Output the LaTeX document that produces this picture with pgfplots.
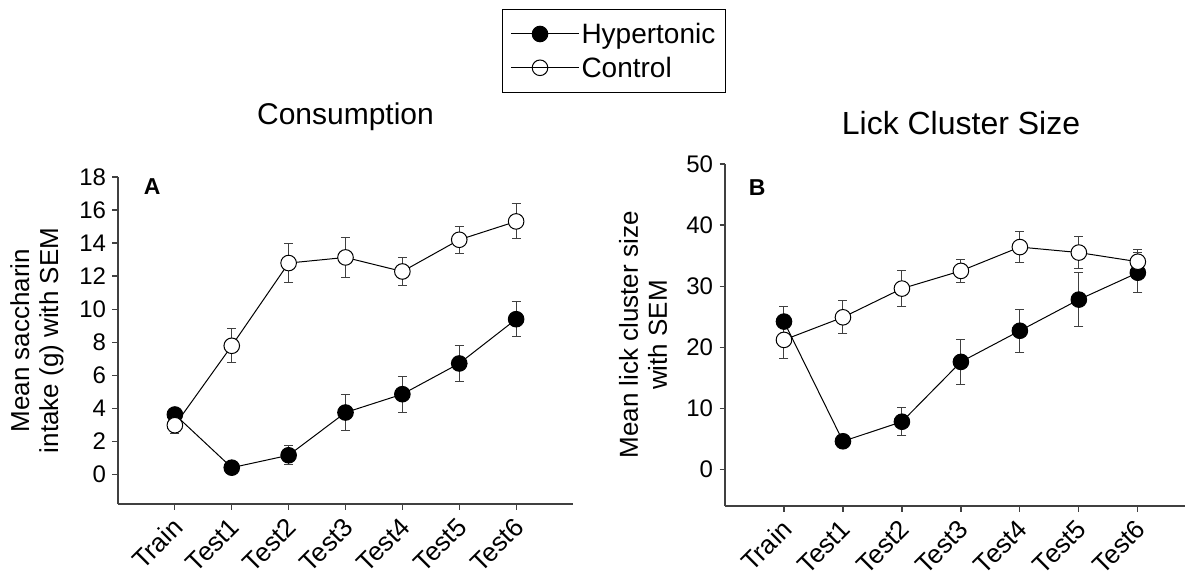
\documentclass[border=0pt]{standalone}
\usepackage{fontspec}
\setmainfont{Liberation Sans}
\usepackage{pgfplots}
\pgfplotsset{compat=1.18}
\usepackage{pgfplotstable}

% mean and SEM
\pgfplotstableread{
x y e
0 3.62 0.30
1 0.40 0.20
2 1.15 0.58
3 3.74 1.10
4 4.85 1.09
5 6.71 1.10
6 9.39 1.06
}\conhyper
\pgfplotstableread{
x y e
0 2.97 0.49
1 7.78 1.03
2 12.79 1.18
3 13.13 1.19
4 12.28 0.84
5 14.20 0.82
6 15.31 1.06
}\concontrol
\pgfplotstableread{
x y e
0 24.2 2.45
1 4.6 0.50
2 7.8 2.26
3 17.6 3.66
4 22.7 3.55
5 27.8 4.37
6 32.2 3.30
}\lickhyper
\pgfplotstableread{
x y e
0 21.2 3.00
1 24.9 2.73
2 29.6 2.95
3 32.5 1.90
4 36.4 2.57
5 35.5 2.60
6 34.0 2.00
}\lickcontrol

\definecolor{axisgray}{HTML}{404040}

\pgfplotsset{
    panel/.style={
        scale only axis,
        axis x line*=bottom,
        axis y line*=left,
        axis line style={draw=axisgray, line width=1.2pt, -},
        tick style={draw=axisgray, line width=1.2pt},
        tick align=outside,
        major tick length=5.5pt,
        xmin=-1,
        xtick={0,...,6},
        xticklabels={Train,Test1,Test2,Test3,Test4,Test5,Test6},
        xticklabel style={rotate=45, anchor=east, font=\fontsize{26}{28}\selectfont,
            xshift=-4pt, yshift=-11.5pt},
        yticklabel style={font=\fontsize{24}{26}\selectfont, xshift=-3pt},
        /pgf/number format/assume math mode=true,
        ylabel style={font=\fontsize{26}{29}\selectfont, align=center, anchor=center},
        title style={anchor=center},
        clip=false,
    },
    grp/.style={
        black, line width=1pt, mark=*, mark size=7.8pt,
        error bars/y dir=both,
        error bars/y explicit,
        error bars/error bar style={line width=1pt, color=axisgray},
        error bars/error mark options={rotate=90, mark size=4.5pt, line width=1pt, color=axisgray},
    },
    hyp/.style={grp, mark options={fill=black, draw=black}},
    ctl/.style={grp, mark options={fill=white, draw=black, line width=1pt}},
    legend image code/.code={
        \draw[mark repeat=2, mark phase=2, #1]
            plot coordinates {(0pt,0pt) (29pt,0pt) (58pt,0pt)};
        \path (0pt,0pt) -- (68pt,0pt);
    },
}

\begin{document}
\begin{tikzpicture}
\useasboundingbox (0,0) rectangle (1185pt,-581pt);

\begin{axis}[
    panel,
    at={(118pt,-504pt)}, anchor=south west,
    width=455pt, height=327pt,
    xmax=7,
    ymin=-1.8, ymax=18,
    ytick={0,2,...,18},
    ylabel={Mean saccharin\\intake (g) with SEM},
    ylabel style={at={(axis description cs:-0.178,0.5)}},
    title={Consumption},
    title style={at={(axis description cs:0.5,1)}, yshift=54pt,
        font=\fontsize{30}{36}\selectfont},
    legend style={
        at={(axis description cs:0.844,1.515)}, anchor=north west,
        draw=black, line width=1pt,
        font=\fontsize{28}{32}\selectfont,
        inner xsep=8pt, inner ysep=12pt,
        row sep=8pt,
        cells={anchor=west},
    },
]
\addplot[hyp] table[x=x, y=y, y error=e] {\conhyper};
\addlegendentry{Hypertonic}
\addplot[ctl] table[x=x, y=y, y error=e] {\concontrol};
\addlegendentry{Control}
\node[font=\fontsize{23}{26}\selectfont\bfseries] at (axis description cs:0.075,0.97) {A};
\end{axis}

\begin{axis}[
    panel,
    at={(725pt,-506pt)}, anchor=south west,
    width=460pt, height=342pt,
    xmax=6.8,
    ymin=-6, ymax=50,
    ytick={0,10,...,50},
    ylabel={Mean lick cluster size\\with SEM},
    ylabel style={at={(axis description cs:-0.178,0.5)}},
    title={Lick Cluster Size},
    title style={at={(axis description cs:0.5,1)}, yshift=35pt, xshift=6pt,
        font=\fontsize{32}{38}\selectfont},
]
\addplot[hyp] table[x=x, y=y, y error=e] {\lickhyper};
\addplot[ctl] table[x=x, y=y, y error=e] {\lickcontrol};
\node[font=\fontsize{23}{26}\selectfont\bfseries] at (axis description cs:0.07,0.93) {B};
\end{axis}
\end{tikzpicture}
\end{document}
